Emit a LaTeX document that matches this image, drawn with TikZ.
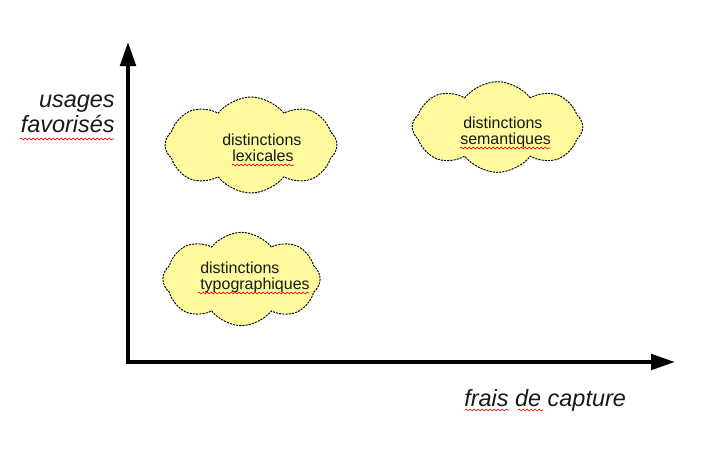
\documentclass[tikz,border=0pt]{standalone}
\usepackage{fontspec}
\setmainfont{Liberation Sans}
\usetikzlibrary{shapes.symbols,arrows.meta,decorations.pathmorphing}
\definecolor{cloudfill}{RGB}{255,250,158}
\definecolor{textgrey}{RGB}{25,25,25}
\tikzset{
  cloudbox/.style={cloud, cloud puffs=8, cloud puff arc=105, cloud ignores aspect,
    draw=black, fill=cloudfill, line width=0.7pt, dash pattern=on 1.6pt off 0.8pt, inner sep=0pt},
  cloudtext/.style={font=\fontsize{12pt}{14pt}\selectfont, text=textgrey, inner sep=0pt, anchor=base west},
  axislabel/.style={font=\fontsize{17.6pt}{20pt}\selectfont\itshape, text=textgrey, inner sep=0pt},
  axisline/.style={line width=3pt, -{Triangle[length=18pt,width=11.5pt]}},
  wavy/.style={draw=red, line width=0.5pt, decorate, decoration={snake, amplitude=0.7pt, segment length=3pt}}
}
\begin{document}
\begin{tikzpicture}[x=0.75pt,y=-0.75pt]
\useasboundingbox (0,0) rectangle (719,461);
% axes
\coordinate (o) at (128,362);
\coordinate (ytip) at (128,42);
\coordinate (xtip) at (675,362);
\draw[axisline] ([yshift=-1.5pt]o) -- (ytip);
\draw[axisline] ([xshift=-1.5pt]o) -- (xtip);
% clouds
\node[cloudbox, minimum width=129pt, minimum height=72pt] (c1) at (251,145) {};
\node[cloudbox, minimum width=128pt, minimum height=68pt] (c2) at (497.5,127) {};
\node[cloudbox, minimum width=118pt, minimum height=70pt] (c3) at (241.5,279) {};
% cloud texts
\node[cloudtext] (c1a) at (222,145) {distinctions};
\node[cloudtext] (c1b) at (232,161) {lexicales};
\node[cloudtext] (c2a) at (463,128) {distinctions};
\node[cloudtext] (c2b) at (460,144) {semantiques};
\node[cloudtext] (c3a) at (200,273) {distinctions};
\node[cloudtext] (c3b) at (200,289) {typographiques};
% axis labels
\node[axislabel, anchor=base east] (ylab1) at (115,107) {usages};
\node[axislabel, anchor=base east] (ylab2) at (115,132) {favorisés};
\node[axislabel, anchor=base west] (xlab) at (464,406) {frais de capture};
% spell-check underlines
\draw[wavy] (20,139) -- (114,139);
\draw[wavy] (465,410) -- (509,410);
\draw[wavy] (518,410) -- (543,410);
\draw[wavy] (232,165) -- (294,165);
\draw[wavy] (460,148) -- (550,148);
\draw[wavy] (198,293) -- (309,293);
\end{tikzpicture}
\end{document}
